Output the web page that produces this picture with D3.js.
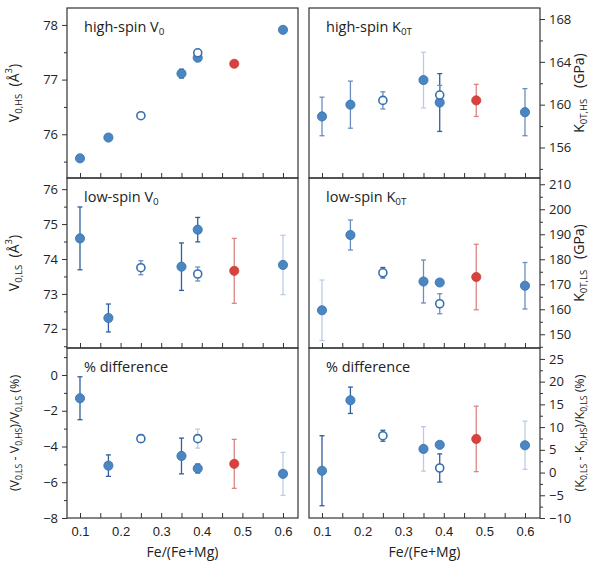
<!DOCTYPE html>
<html>
<head>
<meta charset="utf-8">
<script src="https://cdn.jsdelivr.net/npm/d3@7"></script>
<style>
  body { margin: 0; background: #fff; }
  svg { font-family: "Open Sans", "DejaVu Sans", sans-serif; }
  .lab { white-space: pre; }
</style>
</head>
<body>
<svg id="chart" width="603" height="562"></svg>
<script>
// composition, Fe/(Fe+Mg)
const fe = [0.1, 0.17, 0.25, 0.35, 0.39, 0.39, 0.48, 0.6];
// f = filled blue, o = open, r = red
const kind = ["f", "f", "o", "f", "f", "o", "r", "f"];

const vHS = [75.56, 75.94, 76.34, 77.11, 77.40, 77.49, 77.29, 77.91];
const vHSerr = [0.03, 0.05, 0.03, 0.08, 0.04, 0.03, 0.03, 0.03];
const kHS = [158.9, 160.0, 160.4, 162.3, 160.2, 160.9, 160.4, 159.3];
const kHSerr = [1.8, 2.2, 0.8, 2.6, 2.7, 0.9, 1.5, 2.2];
const vLS = [74.59, 72.31, 73.75, 73.78, 74.84, 73.57, 73.66, 73.83];
const vLSerr = [0.9, 0.4, 0.2, 0.68, 0.35, 0.2, 0.93, 0.85];
const kLS = [159.6, 189.7, 174.6, 171.1, 170.7, 162.2, 172.9, 169.4];
const kLSerr = [12.1, 6.0, 2.1, 8.6, 1.0, 4.0, 13.1, 9.3];
const dV = [-1.3, -5.07, -3.56, -4.53, -5.23, -3.56, -4.97, -5.53];
const dVerr = [1.2, 0.6, 0.2, 1.0, 0.25, 0.53, 1.37, 1.2];
const dK = [0.4, 15.9, 8.1, 5.2, 6.1, 1.0, 7.4, 6.0];
const dKerr = [7.7, 2.9, 1.2, 4.9, 0.5, 3.1, 7.2, 5.3];

const xTicks = [0.1, 0.2, 0.3, 0.4, 0.5, 0.6];

// error bar shades per panel (style only)
const shadeColor = { d: "#2f5f9c", m: "#6c8dc0", l: "#bdcce4", r: "#d98585" };
const dark = ["d", "d", "d", "d", "d", "d", "r", "d"];

let svg = d3.select("#chart");

let colLeft = [67, 309];
let colW = 231;
let rowTop = [8, 178, 348];
let rowH = 170;

let x = d3.scaleLinear().domain([0.068, 0.637]).range([0, colW]);

let panels = [
    { col: 0, row: 0, y: vHS, err: vHSerr, dom: [75.2, 78.31], ticks: [76, 77, 78], minor: [75.5, 76.5, 77.5],
      title: ["high-spin V", "0"], shade: dark,
      label: [["V", ""], ["0,HS", "sub"], ["  (Å", ""], ["3", "sup"], [")", ""]] },
    { col: 1, row: 0, y: kHS, err: kHSerr, dom: [153.15, 169.03], ticks: [156, 160, 164, 168], minor: [154, 158, 162, 166],
      title: ["high-spin K", "0T"], shade: ["m", "m", "m", "l", "d", "m", "r", "m"],
      label: [["K", ""], ["0T,HS", "sub"], ["   (GPa)", ""]] },
    { col: 0, row: 1, y: vLS, err: vLSerr, dom: [71.45, 76.32], ticks: [72, 73, 74, 75, 76], minor: [71.5, 72.5, 73.5, 74.5, 75.5],
      title: ["low-spin V", "0"], shade: ["d", "d", "m", "d", "d", "m", "r", "l"],
      label: [["V", ""], ["0,LS", "sub"], ["  (Å", ""], ["3", "sup"], [")", ""]] },
    { col: 1, row: 1, y: kLS, err: kLSerr, dom: [144.5, 212.5], ticks: d3.range(150, 211, 10), minor: d3.range(145, 210, 10),
      title: ["low-spin K", "0T"], shade: ["l", "m", "d", "m", "d", "m", "r", "m"],
      label: [["K", ""], ["0T,LS", "sub"], ["   (GPa)", ""]] },
    { col: 0, row: 2, y: dV, err: dVerr, dom: [-8, 1.51], ticks: [-8, -6, -4, -2, 0], minor: [-7, -5, -3, -1, 1],
      title: ["% difference", ""], shade: ["d", "d", "d", "d", "d", "l", "r", "l"],
      label: [["(V", ""], ["0,LS", "sub"], [" - V", ""], ["0,HS", "sub"], [")/V", ""], ["0,LS", "sub"], [" (%)", ""]] },
    { col: 1, row: 2, y: dK, err: dKerr, dom: [-10, 27.4], ticks: d3.range(-10, 26, 5), minor: d3.range(-7.5, 25, 5),
      title: ["% difference", ""], shade: ["d", "d", "d", "l", "d", "d", "r", "l"],
      label: [["(K", ""], ["0,LS", "sub"], [" - K", ""], ["0,HS", "sub"], [")/K", ""], ["0,LS", "sub"], [" (%)", ""]] }
];

function addRich(sel, parts, size) {
    parts.forEach(function(p) {
        if (p[0] === "") return;
        let t = sel.append("tspan").text(p[0]);
        if (p[1] === "sub") {
            t.attr("font-size", size * 0.68).attr("baseline-shift", "-30%");
        } else if (p[1] === "sup") {
            t.attr("font-size", size * 0.68).attr("baseline-shift", "70%");
        }
    });
}

panels.forEach(function(p) {
    let left = colLeft[p.col], top = rowTop[p.row];
    let g = svg.append("g").attr("transform", "translate(" + left + "," + top + ")");
    let y = d3.scaleLinear().domain(p.dom).range([rowH, 0]);
    let right = p.col === 1;

    // y axis (outward ticks)
    let yAxis = (right ? d3.axisRight(y) : d3.axisLeft(y)).tickValues(p.ticks)
        .tickSize(5).tickPadding(4).tickFormat(d3.format("d"));
    let ya = g.append("g").attr("transform", right ? "translate(" + colW + ",0)" : null).call(yAxis);
    let yMinor = (right ? d3.axisRight(y) : d3.axisLeft(y)).tickValues(p.minor).tickSize(3).tickFormat("");
    let ym = g.append("g").attr("transform", right ? "translate(" + colW + ",0)" : null).call(yMinor);
    [ya, ym].forEach(function(a) {
        a.select(".domain").remove();
        a.selectAll("line").attr("stroke", "#333").attr("stroke-width", 1);
    });
    ya.selectAll("text").attr("font-size", 13).attr("fill", "#222")
        .attr("font-family", "'Open Sans', sans-serif");

    // x ticks (inward, from the bottom)
    let xa = g.append("g").attr("transform", "translate(0," + rowH + ")")
        .call(d3.axisBottom(x).tickValues(d3.range(0.1, 0.61, 0.05)).tickSize(-5).tickFormat(""));
    xa.select(".domain").remove();
    xa.selectAll("line").attr("stroke", "#333");

    if (p.row === 2) {
        let xl = g.append("g").attr("transform", "translate(0," + rowH + ")")
            .call(d3.axisBottom(x).tickValues(xTicks).tickSize(0).tickPadding(9).tickFormat(d3.format(".1f")));
        xl.select(".domain").remove();
        xl.selectAll("text").attr("font-size", 13).attr("fill", "#222");
        g.append("text")
            .attr("x", colW / 2).attr("y", rowH + 39)
            .attr("text-anchor", "middle").attr("font-size", 14).attr("fill", "#222")
            .text("Fe/(Fe+Mg)");
    }

    // frame
    g.append("rect").attr("width", colW).attr("height", rowH)
        .attr("fill", "none").attr("stroke", "#333").attr("stroke-width", 1.2);

    // panel title
    let tt = g.append("text").attr("x", 17).attr("y", 24).attr("font-size", 14.5).attr("fill", "#222");
    addRich(tt, [[p.title[0], ""], [p.title[1], "sub"]], 14.5);

    // axis label
    let lx = right ? colW + 44 : -48;
    let fs = p.row === 2 ? 12.5 : 14;
    let lab = g.append("text").attr("class", "lab")
        .attr("transform", "translate(" + lx + "," + (rowH / 2) + ") rotate(-90)")
        .attr("text-anchor", "middle").attr("font-size", fs).attr("fill", "#222");
    addRich(lab, p.label, fs);

    let idx = d3.range(fe.length);

    // error bars
    let eb = g.append("g").selectAll("g").data(idx).enter().append("g")
        .attr("stroke", function(i) { return shadeColor[p.shade[i]]; })
        .attr("stroke-width", 1.3);
    eb.append("line")
        .attr("x1", function(i) { return x(fe[i]); })
        .attr("x2", function(i) { return x(fe[i]); })
        .attr("y1", function(i) { return y(p.y[i] - p.err[i]); })
        .attr("y2", function(i) { return y(p.y[i] + p.err[i]); });
    [-1, 1].forEach(function(s) {
        eb.append("line")
            .attr("x1", function(i) { return x(fe[i]) - 2.5; })
            .attr("x2", function(i) { return x(fe[i]) + 2.5; })
            .attr("y1", function(i) { return y(p.y[i] + s * p.err[i]); })
            .attr("y2", function(i) { return y(p.y[i] + s * p.err[i]); });
    });

    // points: filled first, open on top
    let order = idx.filter(function(i) { return kind[i] !== "o"; })
        .concat(idx.filter(function(i) { return kind[i] === "o"; }));
    g.append("g").selectAll("circle").data(order).enter().append("circle")
        .attr("cx", function(i) { return x(fe[i]); })
        .attr("cy", function(i) { return y(p.y[i]); })
        .attr("r", function(i) { return kind[i] === "o" ? 4 : 4.6; })
        .attr("fill", function(i) {
            if (kind[i] === "o") return "#fff";
            if (kind[i] === "r") return "#d8413d";
            return "#4a86c2";
        })
        .attr("stroke", function(i) {
            if (kind[i] === "r") return "#c9403c";
            return "#3570ad";
        })
        .attr("stroke-width", function(i) { return kind[i] === "o" ? 1.6 : 0.8; });
});
</script>
</body>
</html>
